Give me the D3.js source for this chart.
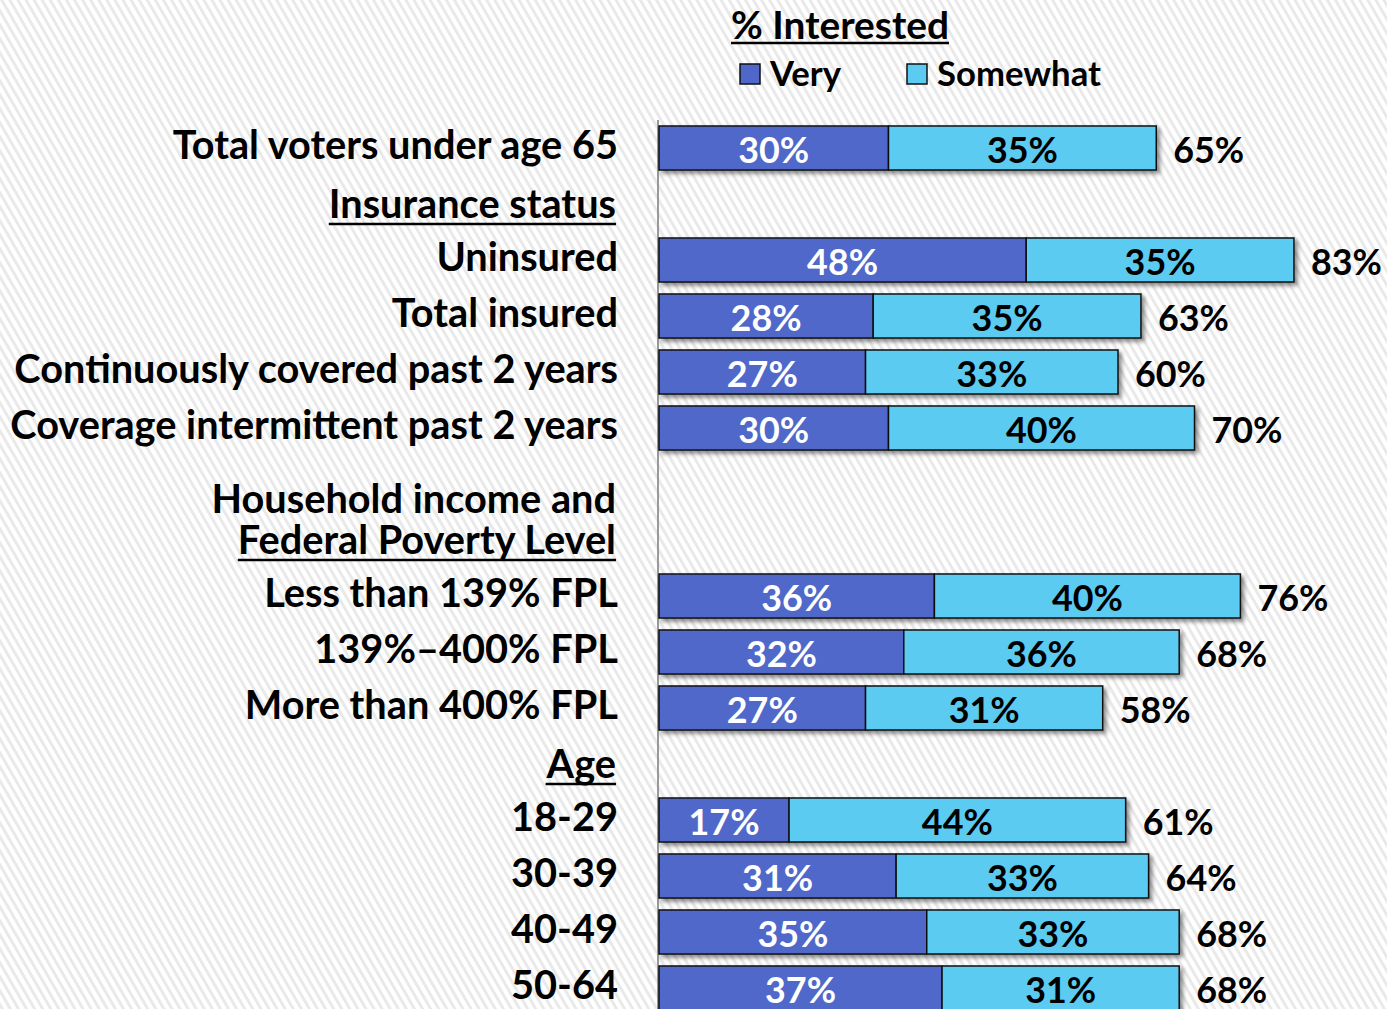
<!DOCTYPE html>
<html>
<head>
<meta charset="utf-8">
<script src="https://cdn.jsdelivr.net/npm/d3@7"></script>
<style>
  body { margin: 0; background: #fff; }
  svg text { font-family: Lato, "Open Sans", sans-serif; font-weight: bold; }
</style>
</head>
<body>
<svg id="chart" width="1387" height="1009"></svg>
<script>
// rows top to bottom, headers have no bars
const rowLabels = [
  "Total voters under age 65", "Insurance status", "Uninsured", "Total insured",
  "Continuously covered past 2 years", "Coverage intermittent past 2 years",
  "Household income and", "Federal Poverty Level",
  "Less than 139% FPL", "139%\u2013400% FPL", "More than 400% FPL",
  "Age", "18-29", "30-39", "40-49", "50-64"
];
const headerRows = [1, 6, 7, 11];
const underlined = [1, 7, 11];
const very =     [30, null, 48, 28, 27, 30, null, null, 36, 32, 27, null, 17, 31, 35, 37];
const somewhat = [35, null, 35, 35, 33, 40, null, null, 40, 36, 31, null, 44, 33, 33, 31];
const totals =   [65, null, 83, 63, 60, 70, null, null, 76, 68, 58, null, 61, 64, 68, 68];
const seriesNames = ["Very", "Somewhat"];
const colors = ["#4f67c9", "#5bcbf1"];

const svg = d3.select("#chart");
const defs = svg.append("defs");

// striped background
const pat = defs.append("pattern")
  .attr("id", "stripes")
  .attr("patternUnits", "userSpaceOnUse")
  .attr("width", 7).attr("height", 7)
  .attr("patternTransform", "rotate(-30)");
pat.append("rect").attr("width", 7).attr("height", 7).attr("fill", "#fff");
pat.append("rect").attr("width", 3).attr("height", 7).attr("fill", "#e9e9e9");
svg.append("rect").attr("width", 1387).attr("height", 1009).attr("fill", "url(#stripes)");

const shadow = defs.append("filter").attr("id", "shadow")
  .attr("x", "-5%").attr("y", "-20%").attr("width", "115%").attr("height", "160%");
shadow.append("feDropShadow")
  .attr("dx", 3).attr("dy", 3).attr("stdDeviation", 2)
  .attr("flood-color", "#000").attr("flood-opacity", 0.45);

const x = d3.scaleLinear().domain([0, 100]).range([659, 1424]);
const y = d3.scaleBand().domain(d3.range(rowLabels.length)).range([120, 1016]).paddingInner(0.214).paddingOuter(0.107);

// fit a font size so that one sample text gets a target width
function fitSize(sample, target) {
  const t = svg.append("text").attr("font-size", 40).text(sample);
  const w = t.node().getComputedTextLength();
  t.remove();
  return 40 * target / w;
}
const labelSize = fitSize("Coverage intermittent past 2 years", 608);
const valueSize = fitSize("30%", 71);
const titleSize = fitSize("% Interested", 218);
const legendSize = fitSize("Somewhat", 164);

// axis line
svg.append("line")
  .attr("x1", x(0) - 1).attr("x2", x(0) - 1)
  .attr("y1", 120).attr("y2", 1009)
  .attr("stroke", "#9a9a9a").attr("stroke-width", 2);

// category labels
const labels = svg.append("g").selectAll("text")
  .data(rowLabels)
  .join("text")
  .attr("x", (d, i) => headerRows.includes(i) ? 616 : 618)
  .attr("y", (d, i) => {
    const c = y(i) + y.bandwidth() / 2;
    if (i === 6) return c + 15;
    return headerRows.includes(i) ? c : c - 3;
  })
  .attr("dy", "0.35em")
  .attr("text-anchor", "end")
  .attr("font-size", labelSize)
  .attr("fill", "#000")
  .text(d => d);

labels.filter((d, i) => underlined.includes(i)).each(function() {
  const b = this.getBBox();
  svg.append("line")
    .attr("x1", b.x).attr("x2", b.x + b.width)
    .attr("y1", b.y + b.height - 2).attr("y2", b.y + b.height - 2)
    .attr("stroke", "#000").attr("stroke-width", 2.5);
});

// bars
const rows = d3.range(rowLabels.length).filter(i => very[i] != null);
const barG = svg.append("g").selectAll("g")
  .data(rows)
  .join("g")
  .attr("filter", "url(#shadow)");

barG.append("rect")
  .attr("x", x(0)).attr("y", i => y(i))
  .attr("width", i => x(very[i]) - x(0))
  .attr("height", y.bandwidth())
  .attr("fill", colors[0]).attr("stroke", "#111").attr("stroke-width", 1.5);

barG.append("rect")
  .attr("x", i => x(very[i])).attr("y", i => y(i))
  .attr("width", i => x(very[i] + somewhat[i]) - x(very[i]))
  .attr("height", y.bandwidth())
  .attr("fill", colors[1]).attr("stroke", "#111").attr("stroke-width", 1.5);

const vals = svg.append("g").attr("font-size", valueSize);
vals.selectAll(".v").data(rows).join("text")
  .attr("x", i => (x(0) + x(very[i])) / 2)
  .attr("y", i => y(i) + y.bandwidth() / 2 + 2)
  .attr("dy", "0.35em").attr("text-anchor", "middle").attr("fill", "#fff")
  .text(i => very[i] + "%");
vals.selectAll(".s").data(rows).join("text")
  .attr("x", i => (x(very[i]) + x(very[i] + somewhat[i])) / 2)
  .attr("y", i => y(i) + y.bandwidth() / 2 + 2)
  .attr("dy", "0.35em").attr("text-anchor", "middle").attr("fill", "#000")
  .text(i => somewhat[i] + "%");
vals.selectAll(".t").data(rows).join("text")
  .attr("x", i => x(very[i] + somewhat[i]) + 17)
  .attr("y", i => y(i) + y.bandwidth() / 2 + 2)
  .attr("dy", "0.35em").attr("text-anchor", "start").attr("fill", "#000")
  .text(i => totals[i] + "%");

// title and legend
const title = svg.append("text")
  .attr("x", 840).attr("y", 25).attr("dy", "0.35em")
  .attr("text-anchor", "middle").attr("font-size", titleSize)
  .text("% Interested");
const tb = title.node().getBBox();
svg.append("line")
  .attr("x1", tb.x).attr("x2", tb.x + tb.width)
  .attr("y1", 43).attr("y2", 43)
  .attr("stroke", "#000").attr("stroke-width", 2.5);

const legendX = [740, 907];
const leg = svg.append("g").selectAll("g")
  .data(seriesNames)
  .join("g")
  .attr("transform", (d, i) => `translate(${legendX[i]},64)`);
leg.append("rect").attr("width", 20).attr("height", 20)
  .attr("fill", (d, i) => colors[i]).attr("stroke", "#111").attr("stroke-width", 1.5);
leg.append("text").attr("x", 30).attr("y", 10).attr("dy", "0.35em")
  .attr("font-size", legendSize).text(d => d);
</script>
</body>
</html>
